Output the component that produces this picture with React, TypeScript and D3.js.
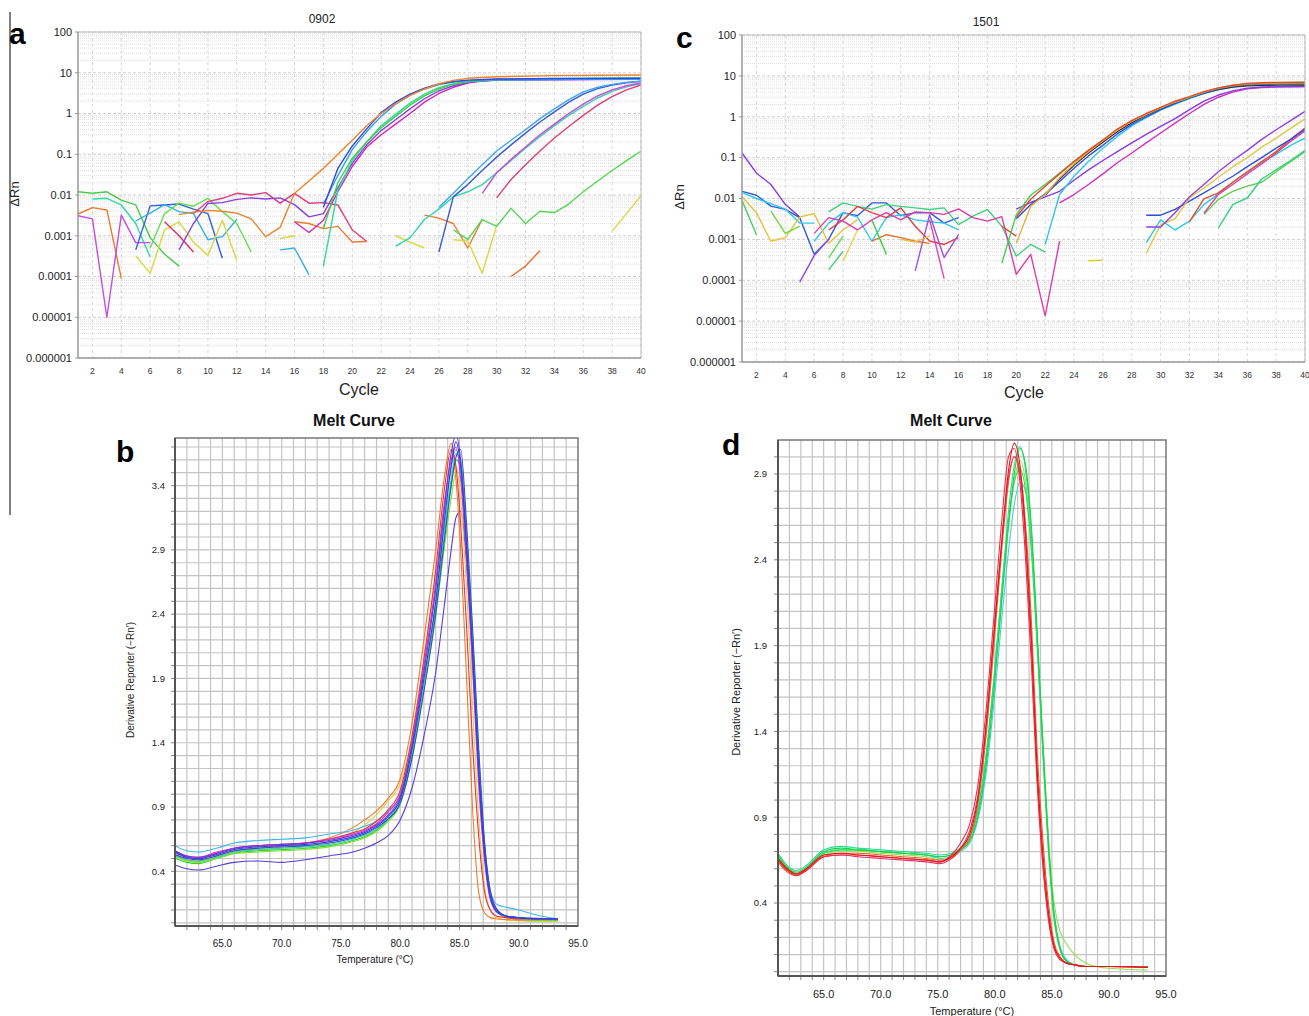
import React from "react";
import * as d3 from "d3";

type Pt = [number, number];

const FONT = "'Liberation Sans', Arial, Helvetica, sans-serif";

// ---------- ticks ----------
const cycleTicks = [2, 4, 6, 8, 10, 12, 14, 16, 18, 20, 22, 24, 26, 28, 30, 32, 34, 36, 38, 40];
const logTicks = [100, 10, 1, 0.1, 0.01, 0.001, 0.0001, 0.00001, 0.000001];
const logTickLabels = ["100", "10", "1", "0.1", "0.01", "0.001", "0.0001", "0.00001", "0.000001"];
const tempTicks = [65, 70, 75, 80, 85, 90, 95];
const tempTickLabels = ["65.0", "70.0", "75.0", "80.0", "85.0", "90.0", "95.0"];
const bYTicks = [0.4, 0.9, 1.4, 1.9, 2.4, 2.9, 3.4];
const dYTicks = [0.4, 0.9, 1.4, 1.9, 2.4, 2.9];

// ---------- panel a (0902): [cycle, ΔRn] ----------
const aGreenNoise: Pt[] = [[1, 0.012], [2, 0.011], [3, 0.012], [4, 0.0075], [5, 0.0057], [6, 0.0009], [7, 0.00035], [8, 0.00018]];
const aTealNoise: Pt[] = [[2, 0.008], [3, 0.0083], [4, 0.0057], [5, 0.002], [6, 0.0003]];
const aOrangeNoise1: Pt[] = [[1, 0.0034], [2, 0.0049], [3, 0.0043], [4, 0.00009]];
const aVioletNoise: Pt[] = [[1, 0.0031], [2, 0.0026], [3, 0.00001], [4, 0.0032], [5, 0.00068], [6, 0.00068]];
const aBlueNoise: Pt[] = [[5, 0.00045], [6, 0.0054], [7, 0.0057], [8, 0.006], [9, 0.0045], [10, 0.0035], [11, 0.00028]];
const aCyanNoise: Pt[] = [[5, 0.0023], [6, 0.0036], [7, 0.0058], [8, 0.0039], [9, 0.0035], [10, 0.0008], [11, 0.00095], [12, 0.0025]];
const aYellowNoise: Pt[] = [[5, 0.00032], [6, 0.00012], [7, 0.0014], [8, 0.0022], [9, 0.0007], [10, 0.00033], [11, 0.0024], [12, 0.00025]];
const aLimeNoise: Pt[] = [[6, 0.0005], [7, 0.0035], [8, 0.0063], [9, 0.0053], [10, 0.0083], [11, 0.0039], [12, 0.002], [13, 0.0004]];
const aCrimsonNoise: Pt[] = [[7, 0.0022], [8, 0.001], [9, 0.0004]];
const aPinkNoise: Pt[] = [[9, 0.0035], [10, 0.0069], [11, 0.0083], [12, 0.011], [13, 0.01], [14, 0.0114], [15, 0.0063], [16, 0.011], [17, 0.0063], [18, 0.0065], [19, 0.0057], [20, 0.0014], [21, 0.00072]];
const aOrangeNoise2: Pt[] = [[16, 0.0022], [17, 0.002], [18, 0.0015], [19, 0.0017], [20, 0.0007], [21, 0.00072]];
const aSkyShort: Pt[] = [[15, 0.00045], [16, 0.0005], [17, 0.00011]];
const aYellowShort: Pt[] = [[15, 0.00085], [16, 0.001]];

const aOrange: Pt[] = [[8, 0.0033], [9, 0.0038], [10, 0.0042], [11, 0.004], [12, 0.0036], [13, 0.0026], [14, 0.00095], [15, 0.0016], [16, 0.011], [17, 0.022], [18, 0.045], [19, 0.1], [20, 0.22], [21, 0.5], [22, 1.0], [23, 1.75], [24, 2.8], [25, 4.0], [26, 5.3], [27, 6.5], [28, 7.3], [30, 8.0], [34, 8.5], [40, 8.8]];
const aBlue: Pt[] = [[18, 0.005], [19, 0.045], [20, 0.16], [21, 0.42], [22, 1.05], [23, 1.9], [24, 3.0], [25, 4.2], [26, 5.3], [27, 6.1], [28, 6.6], [30, 7.0], [34, 7.2], [40, 7.3]];
const aSky: Pt[] = [[18, 0.006], [19, 0.03], [20, 0.13], [21, 0.36], [22, 0.85], [23, 1.7], [24, 2.8], [25, 4.0], [26, 5.1], [27, 5.9], [28, 6.4], [30, 6.8], [40, 7.0]];
const aGreen: Pt[] = [[18, 0.0015], [19, 0.02], [20, 0.08], [21, 0.2], [22, 0.45], [23, 0.85], [24, 1.6], [25, 2.7], [26, 4.0], [27, 5.2], [28, 6.1], [30, 6.9], [40, 7.5]];
const aTeal: Pt[] = [[18, 0.00018], [19, 0.013], [20, 0.07], [21, 0.2], [22, 0.5], [23, 0.95], [24, 1.8], [25, 3.0], [26, 4.3], [27, 5.4], [28, 6.1], [30, 6.7], [40, 7.1]];
const aMagenta: Pt[] = [[16, 0.0022], [17, 0.0012], [18, 0.0024], [19, 0.012], [20, 0.05], [21, 0.15], [22, 0.3], [23, 0.55], [24, 1.0], [25, 1.9], [26, 3.1], [27, 4.4], [28, 5.6], [29, 6.3], [30, 6.7], [40, 7.0]];
const aPurple: Pt[] = [[8, 0.00045], [9, 0.002], [10, 0.0062], [11, 0.0065], [12, 0.0078], [13, 0.0085], [14, 0.008], [15, 0.0085], [16, 0.0058], [17, 0.0029], [18, 0.0035], [19, 0.015], [20, 0.06], [21, 0.17], [22, 0.38], [23, 0.7], [24, 1.3], [25, 2.3], [26, 3.6], [27, 4.8], [28, 5.8], [30, 6.6], [40, 6.9]];

const aSkyLate: Pt[] = [[26, 0.005], [27, 0.011], [28, 0.025], [29, 0.055], [30, 0.12], [31, 0.22], [32, 0.4], [33, 0.75], [34, 1.3], [35, 2.2], [36, 3.4], [37, 4.4], [38, 5.2], [39, 5.8], [40, 6.2]];
const aBlueLate: Pt[] = [[26, 0.0004], [27, 0.009], [28, 0.018], [29, 0.04], [30, 0.085], [31, 0.17], [32, 0.33], [33, 0.62], [34, 1.1], [35, 1.9], [36, 3.0], [37, 4.1], [38, 5.0], [39, 5.7], [40, 6.2]];
const aTealLate: Pt[] = [[23, 0.00055], [24, 0.0009], [25, 0.0025], [26, 0.0045], [27, 0.009], [28, 0.012], [29, 0.018], [30, 0.035], [31, 0.07], [32, 0.14], [33, 0.27], [34, 0.5], [35, 0.9], [36, 1.5], [37, 2.4], [38, 3.5], [39, 4.5], [40, 5.4]];
const aMagentaLate: Pt[] = [[29, 0.011], [30, 0.035], [31, 0.075], [32, 0.15], [33, 0.3], [34, 0.55], [35, 1.0], [36, 1.7], [37, 2.7], [38, 3.8], [39, 4.8], [40, 5.6]];
const aCrimsonLate: Pt[] = [[30, 0.0085], [31, 0.024], [32, 0.055], [33, 0.12], [34, 0.25], [35, 0.48], [36, 0.9], [37, 1.6], [38, 2.6], [39, 3.8], [40, 5.0]];
const aYellowLate1: Pt[] = [[23, 0.001], [24, 0.0007], [25, 0.0005]];
const aOrangeLate: Pt[] = [[25, 0.0032], [26, 0.0027], [27, 0.002], [28, 0.0005], [29, 0.0025]];
const aYellowLate2: Pt[] = [[27, 0.0008], [28, 0.00075], [29, 0.00012], [30, 0.0018]];
const aGreenLate: Pt[] = [[27, 0.0014], [28, 0.0008], [29, 0.0025], [30, 0.0017], [31, 0.0047], [32, 0.002], [33, 0.004], [34, 0.0037], [35, 0.006], [36, 0.012], [37, 0.022], [38, 0.04], [39, 0.07], [40, 0.12]];
const aRedLate: Pt[] = [[31, 0.0001], [32, 0.00018], [33, 0.00043]];
const aYellowLast: Pt[] = [[38, 0.0013], [40, 0.0095]];

// ---------- panel c (1501) ----------
const cPurpleNoise: Pt[] = [[1, 0.13], [2, 0.042], [3, 0.022], [4, 0.0072], [5, 0.0035]];
const cBlueNoise: Pt[] = [[1, 0.015], [2, 0.012], [3, 0.0065], [4, 0.0054], [5, 0.0034], [6, 0.00043], [7, 0.001], [8, 0.0045], [9, 0.0038], [10, 0.0078], [11, 0.0078], [12, 0.0038], [13, 0.0045], [14, 0.0045], [15, 0.0025], [16, 0.0034]];
const cCyanNoise: Pt[] = [[1, 0.014], [2, 0.01], [3, 0.0075], [4, 0.0055], [5, 0.0025], [6, 0.0025]];
const cCyanNoise2: Pt[] = [[6, 0.0009], [7, 0.0025], [8, 0.0045], [9, 0.0035], [10, 0.0009], [11, 0.0034], [12, 0.004], [13, 0.003], [14, 0.0027], [15, 0.0025], [16, 0.0017]];
const cYellowNoise: Pt[] = [[1, 0.011], [2, 0.0045], [3, 0.0009], [4, 0.0011], [5, 0.0035], [6, 0.0043], [7, 0.0008], [8, 0.0017], [9, 0.003]];
const cGreenNoise1: Pt[] = [[1, 0.009], [2, 0.0013]];
const cGreenNoise2: Pt[] = [[3, 0.0049], [4, 0.0014], [5, 0.0021]];
const cGreenTop: Pt[] = [[7, 0.0047], [8, 0.0078], [9, 0.0064], [10, 0.0055], [11, 0.0071], [12, 0.0064], [13, 0.0059], [14, 0.0054], [15, 0.0059], [16, 0.0023], [17, 0.0037], [18, 0.0054], [19, 0.0021], [20, 0.00039], [21, 0.00075], [22, 0.00049]];
const cRedNoise: Pt[] = [[7, 0.0017], [8, 0.003], [9, 0.0064], [10, 0.0045], [11, 0.0034], [12, 0.0059], [13, 0.0021], [14, 0.00091], [15, 0.00075], [16, 0.0011]];
const cMagentaNoise: Pt[] = [[6, 0.0014], [7, 0.0034], [8, 0.0028], [9, 0.0017], [10, 0.003], [11, 0.0045], [12, 0.003], [13, 0.0047], [14, 0.0045], [15, 0.0041], [16, 0.0056], [17, 0.0034], [18, 0.0028], [19, 0.0036], [20, 0.00014], [21, 0.00043], [22, 0.0000135], [23, 0.0009]];
const cPurpleShort1: Pt[] = [[5, 0.00009], [6, 0.0004], [7, 0.001]];
const cPurpleShort2: Pt[] = [[13, 0.00017], [14, 0.004], [15, 0.00036], [16, 0.0013]];
const cMagentaSpike: Pt[] = [[14, 0.003], [15, 0.00011]];
const cOrangeNoise: Pt[] = [[10, 0.00091], [11, 0.0013], [12, 0.0011], [13, 0.0009], [14, 0.0008]];
const cGreenShort1: Pt[] = [[7, 0.00035], [8, 0.0012]];
const cGreenShort2: Pt[] = [[7, 0.00018], [8, 0.00051]];
const cGreenShort3: Pt[] = [[10, 0.003], [11, 0.00043]];
const cYellowShort: Pt[] = [[8, 0.00029], [9, 0.0017]];
const cYellowFlat: Pt[] = [[12, 0.001], [13, 0.00086], [14, 0.0012]];
const cRedShort: Pt[] = [[19, 0.0021], [20, 0.0012]];
const cYellowFlat2: Pt[] = [[25, 0.0003], [26, 0.00031]];

const cRed: Pt[] = [[20, 0.0035], [21, 0.0096], [22, 0.02], [23, 0.04], [24, 0.08], [25, 0.15], [26, 0.27], [27, 0.5], [28, 0.8], [29, 1.2], [30, 1.7], [31, 2.4], [32, 3.1], [33, 4.1], [34, 5.1], [35, 5.9], [36, 6.5], [37, 6.8], [38, 6.9], [40, 7.0]];
const cGreen: Pt[] = [[19, 0.00026], [20, 0.004], [21, 0.012], [22, 0.022], [23, 0.042], [24, 0.08], [25, 0.15], [26, 0.27], [27, 0.48], [28, 0.78], [29, 1.15], [30, 1.65], [31, 2.3], [32, 3.0], [33, 4.0], [34, 5.0], [35, 5.8], [36, 6.3], [38, 6.6], [40, 6.8]];
const cOrange: Pt[] = [[20, 0.0008], [21, 0.0065], [22, 0.0125], [23, 0.032], [24, 0.07], [25, 0.14], [26, 0.26], [27, 0.47], [28, 0.78], [29, 1.15], [30, 1.65], [31, 2.3], [32, 3.05], [33, 4.0], [34, 5.0], [35, 5.8], [36, 6.4], [38, 6.8], [40, 6.9]];
const cBlue: Pt[] = [[20, 0.0032], [21, 0.0071], [22, 0.013], [23, 0.026], [24, 0.055], [25, 0.11], [26, 0.2], [27, 0.38], [28, 0.65], [29, 1.0], [30, 1.5], [31, 2.1], [32, 2.9], [33, 3.8], [34, 4.8], [35, 5.6], [36, 6.1], [38, 6.5], [40, 6.6]];
const cCyan: Pt[] = [[22, 0.00075], [23, 0.0125], [24, 0.035], [25, 0.08], [26, 0.17], [27, 0.33], [28, 0.6], [29, 0.95], [30, 1.45], [31, 2.05], [32, 2.8], [33, 3.7], [34, 4.6], [35, 5.4], [36, 5.9], [38, 6.3], [40, 6.4]];
const cBlack: Pt[] = [[22, 0.012], [23, 0.03], [24, 0.065], [25, 0.13], [26, 0.24], [27, 0.43], [28, 0.72], [29, 1.1], [30, 1.55], [31, 2.2], [32, 2.9], [33, 3.8], [34, 4.6], [35, 5.3], [36, 5.7], [38, 5.95], [40, 6.0]];
const cPurple: Pt[] = [[20, 0.0055], [21, 0.008], [22, 0.011], [23, 0.015], [24, 0.028], [25, 0.05], [26, 0.085], [27, 0.14], [28, 0.23], [29, 0.37], [30, 0.58], [31, 0.9], [32, 1.5], [33, 2.4], [34, 3.4], [35, 4.3], [36, 5.0], [37, 5.3], [38, 5.4], [40, 5.5]];
const cMagenta: Pt[] = [[23, 0.0078], [24, 0.0125], [25, 0.022], [26, 0.04], [27, 0.075], [28, 0.13], [29, 0.23], [30, 0.4], [31, 0.7], [32, 1.2], [33, 2.0], [34, 3.0], [35, 4.0], [36, 4.8], [37, 5.2], [38, 5.4], [40, 5.5]];

const cBlueLate: Pt[] = [[29, 0.0039], [30, 0.0039], [31, 0.0054], [32, 0.0086], [33, 0.0137], [34, 0.022], [35, 0.035], [36, 0.06], [37, 0.1], [38, 0.17], [39, 0.28], [40, 0.5]];
const cPurpleLate: Pt[] = [[29, 0.002], [30, 0.002], [31, 0.0045], [32, 0.011], [33, 0.022], [34, 0.045], [35, 0.085], [36, 0.15], [37, 0.28], [38, 0.48], [39, 0.8], [40, 1.35]];
const cCyanLate: Pt[] = [[29, 0.00083], [30, 0.003], [31, 0.0017], [32, 0.0028], [33, 0.0071], [34, 0.013], [35, 0.025], [36, 0.045], [37, 0.075], [38, 0.12], [39, 0.2], [40, 0.3]];
const cYellowLate: Pt[] = [[29, 0.00045], [30, 0.0023], [31, 0.0032], [32, 0.0103], [33, 0.018], [34, 0.033], [35, 0.06], [36, 0.1], [37, 0.18], [38, 0.3], [39, 0.52], [40, 0.89]];
const cRedLate: Pt[] = [[32, 0.0027], [33, 0.0098], [34, 0.0137], [35, 0.025], [36, 0.045], [37, 0.08], [38, 0.14], [39, 0.28], [40, 0.53]];
const cMagentaLate: Pt[] = [[33, 0.0044], [34, 0.0125], [35, 0.022], [36, 0.04], [37, 0.07], [38, 0.13], [39, 0.25], [40, 0.45]];
const cGreenLate: Pt[] = [[33, 0.0041], [34, 0.0095], [35, 0.015], [36, 0.02], [37, 0.025], [38, 0.045], [39, 0.08], [40, 0.14]];
const cTealLate: Pt[] = [[34, 0.0019], [35, 0.0071], [36, 0.0103], [37, 0.03], [38, 0.05], [39, 0.085], [40, 0.15]];

// ---------- panel b (melt, 0902): derivative reporter at bTemps ----------
const bTemps = [61, 62, 63, 64.5, 66, 68, 70, 72, 74, 76, 77, 78, 79, 80, 81, 82, 83, 83.7, 84.3, 84.7, 85.1, 85.6, 86.1, 86.6, 87.1, 87.6, 88.2, 89, 90, 91.5, 93.3];
const bBlue = [0.55, 0.51, 0.5, 0.53, 0.57, 0.59, 0.6, 0.61, 0.63, 0.67, 0.7, 0.75, 0.83, 0.96, 1.35, 1.9, 2.5, 3.1, 3.55, 3.74, 3.55, 2.9, 2.1, 1.2, 0.55, 0.2, 0.08, 0.05, 0.04, 0.035, 0.03];
const bNavy = [0.53, 0.5, 0.49, 0.52, 0.56, 0.58, 0.59, 0.6, 0.62, 0.66, 0.69, 0.74, 0.81, 0.93, 1.28, 1.8, 2.4, 2.95, 3.4, 3.62, 3.68, 3.1, 2.3, 1.4, 0.65, 0.25, 0.1, 0.05, 0.04, 0.03, 0.03];
const bPurple = [0.56, 0.52, 0.51, 0.54, 0.58, 0.6, 0.61, 0.62, 0.64, 0.68, 0.71, 0.76, 0.84, 0.98, 1.38, 1.95, 2.6, 3.2, 3.65, 3.8, 3.6, 2.95, 2.15, 1.25, 0.6, 0.22, 0.09, 0.05, 0.04, 0.03, 0.03];
const bMagenta = [0.56, 0.52, 0.51, 0.55, 0.58, 0.6, 0.61, 0.62, 0.65, 0.69, 0.72, 0.77, 0.86, 1.0, 1.4, 2.0, 2.65, 3.25, 3.6, 3.7, 3.45, 2.8, 2.0, 1.1, 0.5, 0.18, 0.08, 0.05, 0.04, 0.03, 0.03];
const bRed = [0.55, 0.51, 0.5, 0.54, 0.58, 0.6, 0.61, 0.62, 0.65, 0.7, 0.73, 0.79, 0.88, 1.03, 1.45, 2.05, 2.75, 3.35, 3.68, 3.55, 3.1, 2.3, 1.4, 0.7, 0.25, 0.1, 0.05, 0.04, 0.03, 0.03, 0.03];
const bOrange = [0.53, 0.49, 0.48, 0.52, 0.56, 0.58, 0.6, 0.62, 0.66, 0.74, 0.8, 0.87, 0.97, 1.12, 1.55, 2.2, 2.9, 3.45, 3.73, 3.45, 2.9, 1.9, 0.9, 0.25, 0.08, 0.04, 0.03, 0.025, 0.02, 0.02, 0.02];
const bYellow = [0.52, 0.48, 0.47, 0.51, 0.55, 0.57, 0.58, 0.6, 0.63, 0.7, 0.76, 0.84, 0.95, 1.08, 1.45, 2.05, 2.7, 3.2, 3.5, 3.55, 3.3, 2.6, 1.7, 0.85, 0.3, 0.1, 0.04, 0.02, 0.015, 0.01, 0.01];
const bGreen = [0.5, 0.47, 0.46, 0.5, 0.54, 0.56, 0.57, 0.58, 0.6, 0.64, 0.67, 0.72, 0.8, 0.93, 1.3, 1.85, 2.45, 3.0, 3.4, 3.6, 3.55, 3.0, 2.2, 1.3, 0.6, 0.22, 0.08, 0.04, 0.03, 0.02, 0.02];
const bLime = [0.51, 0.48, 0.47, 0.5, 0.54, 0.55, 0.56, 0.57, 0.59, 0.63, 0.66, 0.71, 0.79, 0.92, 1.28, 1.82, 2.4, 2.9, 3.3, 3.5, 3.5, 3.0, 2.25, 1.35, 0.62, 0.23, 0.09, 0.04, 0.03, 0.02, 0.02];
const bTeal = [0.52, 0.49, 0.48, 0.51, 0.55, 0.57, 0.58, 0.59, 0.61, 0.65, 0.68, 0.73, 0.81, 0.95, 1.32, 1.88, 2.5, 3.05, 3.45, 3.65, 3.6, 3.05, 2.25, 1.35, 0.63, 0.24, 0.09, 0.05, 0.04, 0.03, 0.02];
const bCyan = [0.6, 0.56, 0.55, 0.58, 0.62, 0.64, 0.65, 0.66, 0.69, 0.72, 0.75, 0.79, 0.87, 1.0, 1.4, 1.97, 2.6, 3.15, 3.55, 3.68, 3.5, 2.9, 2.1, 1.25, 0.6, 0.25, 0.14, 0.12, 0.1, 0.06, 0.03];
const bViolet = [0.45, 0.42, 0.41, 0.44, 0.47, 0.48, 0.47, 0.49, 0.52, 0.55, 0.58, 0.62, 0.68, 0.8, 1.05, 1.45, 1.95, 2.45, 2.9, 3.15, 3.2, 2.8, 2.05, 1.2, 0.58, 0.22, 0.09, 0.05, 0.04, 0.03, 0.03];

// ---------- panel d (melt, 1501) ----------
const dTemps = [61, 61.8, 62.6, 63.5, 65, 66.5, 68, 70, 72, 74, 75.2, 76.2, 77, 77.8, 78.5, 79.2, 79.9, 80.6, 81.2, 81.7, 82.2, 82.7, 83.2, 83.7, 84.2, 84.7, 85.2, 85.7, 86.3, 87, 88, 90, 93.4];
const dRed = [0.66, 0.6, 0.57, 0.6, 0.68, 0.69, 0.68, 0.67, 0.66, 0.65, 0.64, 0.67, 0.72, 0.8, 1.0, 1.4, 1.95, 2.5, 2.92, 3.08, 2.95, 2.55, 1.95, 1.2, 0.7, 0.35, 0.15, 0.08, 0.05, 0.04, 0.03, 0.03, 0.025];
const dRed2 = [0.65, 0.59, 0.56, 0.59, 0.67, 0.68, 0.68, 0.67, 0.66, 0.65, 0.64, 0.68, 0.75, 0.86, 1.08, 1.5, 2.05, 2.62, 3.0, 3.05, 2.85, 2.4, 1.8, 1.1, 0.62, 0.3, 0.13, 0.07, 0.05, 0.04, 0.03, 0.03, 0.025];
const dOrange = [0.64, 0.58, 0.56, 0.59, 0.67, 0.69, 0.69, 0.68, 0.67, 0.66, 0.65, 0.66, 0.71, 0.78, 0.97, 1.35, 1.88, 2.45, 2.85, 3.0, 2.92, 2.6, 2.05, 1.3, 0.78, 0.4, 0.17, 0.09, 0.05, 0.04, 0.03, 0.03, 0.025];
const dPink = [0.65, 0.59, 0.56, 0.6, 0.67, 0.68, 0.67, 0.66, 0.65, 0.64, 0.63, 0.66, 0.72, 0.82, 1.02, 1.42, 1.95, 2.5, 2.88, 3.0, 2.9, 2.5, 1.9, 1.15, 0.65, 0.32, 0.14, 0.08, 0.05, 0.04, 0.03, 0.03, 0.025];
const dGreen = [0.68, 0.61, 0.58, 0.61, 0.7, 0.72, 0.71, 0.7, 0.69, 0.68, 0.67, 0.68, 0.71, 0.76, 0.9, 1.18, 1.62, 2.15, 2.6, 2.9, 3.05, 2.95, 2.6, 2.0, 1.35, 0.75, 0.33, 0.14, 0.06, 0.04, 0.03, 0.03, 0.03];
const dGreen2 = [0.67, 0.6, 0.57, 0.6, 0.69, 0.71, 0.71, 0.7, 0.69, 0.68, 0.67, 0.68, 0.72, 0.78, 0.94, 1.25, 1.7, 2.22, 2.62, 2.85, 2.93, 2.8, 2.45, 1.9, 1.28, 0.7, 0.3, 0.13, 0.06, 0.04, 0.03, 0.03, 0.03];
const dLight = [0.66, 0.6, 0.57, 0.6, 0.68, 0.7, 0.7, 0.69, 0.68, 0.67, 0.65, 0.67, 0.71, 0.77, 0.93, 1.22, 1.66, 2.18, 2.6, 2.86, 2.98, 2.85, 2.5, 1.95, 1.35, 0.78, 0.4, 0.24, 0.16, 0.1, 0.05, 0.02, 0.01];
const dCyan = [0.65, 0.6, 0.57, 0.6, 0.69, 0.71, 0.71, 0.7, 0.69, 0.68, 0.66, 0.67, 0.7, 0.75, 0.88, 1.14, 1.55, 2.05, 2.45, 2.72, 2.85, 2.8, 2.5, 1.95, 1.35, 0.75, 0.34, 0.15, 0.07, 0.04, 0.03, 0.03, 0.03];
const dSpring = [0.69, 0.62, 0.59, 0.62, 0.71, 0.73, 0.72, 0.71, 0.7, 0.69, 0.68, 0.69, 0.72, 0.78, 0.93, 1.22, 1.68, 2.22, 2.68, 2.95, 3.06, 2.92, 2.55, 1.95, 1.3, 0.72, 0.32, 0.14, 0.06, 0.04, 0.03, 0.03, 0.03];

type AmpCurve = { data: Pt[]; color: string };

const aCurves: AmpCurve[] = [
  { data: aGreenNoise, color: "#48cc48" },
  { data: aTealNoise, color: "#2ed8a8" },
  { data: aOrangeNoise1, color: "#ec7a30" },
  { data: aVioletNoise, color: "#c44ee0" },
  { data: aBlueNoise, color: "#3060e0" },
  { data: aCyanNoise, color: "#34b0e4" },
  { data: aYellowNoise, color: "#d8d840" },
  { data: aLimeNoise, color: "#62e04c" },
  { data: aCrimsonNoise, color: "#e0305c" },
  { data: aPinkNoise, color: "#e03c7c" },
  { data: aOrangeNoise2, color: "#ec7a30" },
  { data: aSkyShort, color: "#34b0e4" },
  { data: aYellowShort, color: "#d8d840" },
  { data: aYellowLate1, color: "#d8d840" },
  { data: aOrangeLate, color: "#ec7a30" },
  { data: aYellowLate2, color: "#d8d840" },
  { data: aGreenLate, color: "#50d850" },
  { data: aRedLate, color: "#ec6a30" },
  { data: aYellowLast, color: "#d8d840" },
  { data: aTealLate, color: "#34d4b0" },
  { data: aCrimsonLate, color: "#e04070" },
  { data: aMagentaLate, color: "#cc44d8" },
  { data: aBlueLate, color: "#3a58e0" },
  { data: aSkyLate, color: "#40a8e8" },
  { data: aMagenta, color: "#d424c4" },
  { data: aPurple, color: "#8a40e0" },
  { data: aTeal, color: "#2ed8a0" },
  { data: aGreen, color: "#44d044" },
  { data: aSky, color: "#30a4e8" },
  { data: aBlue, color: "#3048e0" },
  { data: aOrange, color: "#f08228" },
];

const cCurves: AmpCurve[] = [
  { data: cPurpleNoise, color: "#8a40e0" },
  { data: cBlueNoise, color: "#3058e0" },
  { data: cCyanNoise, color: "#30c8e8" },
  { data: cCyanNoise2, color: "#30c8e8" },
  { data: cYellowNoise, color: "#e8c040" },
  { data: cGreenNoise1, color: "#48d060" },
  { data: cGreenNoise2, color: "#70d840" },
  { data: cGreenTop, color: "#40d080" },
  { data: cRedNoise, color: "#e04040" },
  { data: cMagentaNoise, color: "#e03ca8" },
  { data: cPurpleShort1, color: "#9048e0" },
  { data: cPurpleShort2, color: "#a050e0" },
  { data: cMagentaSpike, color: "#e040c0" },
  { data: cOrangeNoise, color: "#e07030" },
  { data: cGreenShort1, color: "#60d850" },
  { data: cGreenShort2, color: "#40d070" },
  { data: cGreenShort3, color: "#48d048" },
  { data: cYellowShort, color: "#e8d050" },
  { data: cYellowFlat, color: "#e8c040" },
  { data: cRedShort, color: "#e04040" },
  { data: cYellowFlat2, color: "#d8c820" },
  { data: cGreenLate, color: "#60d050" },
  { data: cTealLate, color: "#30d080" },
  { data: cCyanLate, color: "#30c8e8" },
  { data: cMagentaLate, color: "#e040a0" },
  { data: cRedLate, color: "#e05030" },
  { data: cBlueLate, color: "#3050d8" },
  { data: cYellowLate, color: "#e0c848" },
  { data: cPurpleLate, color: "#9040e0" },
  { data: cMagenta, color: "#d030c0" },
  { data: cPurple, color: "#8a38e0" },
  { data: cCyan, color: "#30c8e8" },
  { data: cBlack, color: "#303030" },
  { data: cBlue, color: "#3050e0" },
  { data: cGreen, color: "#40d050" },
  { data: cOrange, color: "#e8b030" },
  { data: cRed, color: "#e84830" },
];

type MeltCurve = { values: number[]; color: string };

const bCurves: MeltCurve[] = [
  { values: bViolet, color: "#5a3cd8" },
  { values: bYellow, color: "#dcd040" },
  { values: bOrange, color: "#f07a28" },
  { values: bGreen, color: "#30d030" },
  { values: bLime, color: "#80e030" },
  { values: bTeal, color: "#30d8a0" },
  { values: bCyan, color: "#40b8e8" },
  { values: bRed, color: "#e83040" },
  { values: bMagenta, color: "#e030c0" },
  { values: bPurple, color: "#7a30e0" },
  { values: bNavy, color: "#3050c8" },
  { values: bBlue, color: "#2840e8" },
];

const dCurves: MeltCurve[] = [
  { values: dCyan, color: "#40d0e0" },
  { values: dLight, color: "#90e050" },
  { values: dGreen2, color: "#30e060" },
  { values: dSpring, color: "#20e090" },
  { values: dGreen, color: "#20d040" },
  { values: dOrange, color: "#f06020" },
  { values: dPink, color: "#e83070" },
  { values: dRed2, color: "#f03040" },
  { values: dRed, color: "#e01818" },
];

function AmpPanel(props: {
  id: string; left: number; right: number; top: number; bottom: number;
  title: string; titleX: number; titleY: number;
  letter: string; letterX: number; letterY: number;
  labelX: number; labelY: number; tickY: number; cycleX: number; cycleY: number;
  curves: AmpCurve[];
}) {
  const { id, left, right, top, bottom, curves } = props;
  const x = d3.scaleLinear().domain([1, 40]).range([left, right]);
  const y = d3.scaleLog().domain([1e-6, 100]).range([bottom, top]);
  const line = d3.line<Pt>().x((d) => x(d[0])).y((d) => y(d[1]));
  const minor: number[] = [];
  for (let e = -6; e <= 1; e++) for (let m = 2; m <= 9; m++) minor.push(m * Math.pow(10, e));

  return (
    <g fontFamily={FONT}>
      <defs>
        <clipPath id={id}>
          <rect x={left} y={top} width={right - left} height={bottom - top} />
        </clipPath>
      </defs>
      {minor.map((v) => (
        <line key={"mn" + v} x1={left} x2={right} y1={y(v)} y2={y(v)} stroke="#d6d6d6" strokeWidth={0.8} strokeDasharray="1,1" />
      ))}
      {logTicks.map((v) => (
        <line key={"mj" + v} x1={left} x2={right} y1={y(v)} y2={y(v)} stroke="#cfcfcf" strokeWidth={1} strokeDasharray="3,2" />
      ))}
      {cycleTicks.map((c) => (
        <line key={"v" + c} x1={x(c)} x2={x(c)} y1={top} y2={bottom} stroke="#d8d8d8" strokeWidth={1} strokeDasharray="3,3" />
      ))}
      <g clipPath={`url(#${id})`}>
        {curves.map((c, i) => (
          <path key={i} d={line(c.data) || ""} fill="none" stroke={c.color} strokeWidth={1.4} strokeLinejoin="round" />
        ))}
      </g>
      <line x1={left} x2={right} y1={top} y2={top} stroke="#bbbbbb" />
      <line x1={right} x2={right} y1={top} y2={bottom} stroke="#bbbbbb" />
      <line x1={left} x2={left} y1={top} y2={bottom} stroke="#999" strokeWidth={1.5} />
      <line x1={left} x2={right} y1={bottom} y2={bottom} stroke="#999" strokeWidth={1.5} />
      {logTicks.map((v, i) => (
        <g key={"yl" + v}>
          <line x1={left - 3} x2={left} y1={y(v)} y2={y(v)} stroke="#999" />
          <text x={left - 6} y={y(v)} dy="0.35em" textAnchor="end" fontSize={11} fill="#222">
            {logTickLabels[i]}
          </text>
        </g>
      ))}
      {cycleTicks.map((c) => (
        <text key={"xl" + c} x={x(c)} y={props.tickY} textAnchor="middle" fontSize={8.5} fill="#333">
          {c}
        </text>
      ))}
      <text x={props.titleX} y={props.titleY} textAnchor="middle" fontSize={12} fill="#222">{props.title}</text>
      <text x={props.cycleX} y={props.cycleY} textAnchor="middle" fontSize={16} fill="#222">Cycle</text>
      <text transform={`translate(${props.labelX},${props.labelY}) rotate(-90)`} textAnchor="middle" fontSize={13} fill="#222">ΔRn</text>
      <text x={props.letterX} y={props.letterY} fontSize={30} fontWeight="bold" fill="#000">{props.letter}</text>
    </g>
  );
}

function MeltPanel(props: {
  id: string; left: number; right: number; top: number; bottom: number;
  yMin: number; yMax: number; yTicks: number[]; temps: number[]; curves: MeltCurve[];
  titleX: number; titleY: number; letter: string; letterX: number; letterY: number;
  tickY: number; xLabelX: number; xLabelY: number; yLabelX: number; yLabelY: number;
  labelSize: number; yTickRight: number;
}) {
  const { id, left, right, top, bottom, temps, curves } = props;
  const x = d3.scaleLinear().domain([61, 95]).range([left, right]);
  const y = d3.scaleLinear().domain([props.yMin, props.yMax]).range([bottom, top]);
  const line = d3
    .line<[number, number]>()
    .x((d) => x(d[0]))
    .y((d) => y(d[1]))
    .curve(d3.curveMonotoneX);
  const vGrid = d3.range(62, 95, 1);
  const hGrid = d3.range(0, Math.floor(props.yMax * 10) + 1).map((k) => k / 10);

  return (
    <g fontFamily={FONT}>
      <defs>
        <clipPath id={id}>
          <rect x={left} y={top} width={right - left} height={bottom - top} />
        </clipPath>
      </defs>
      {vGrid.map((t) => (
        <line key={"v" + t} x1={x(t)} x2={x(t)} y1={top} y2={bottom} stroke="#c4c4c4" strokeWidth={1.2} />
      ))}
      {hGrid.map((v) => (
        <line key={"h" + v} x1={left} x2={right} y1={y(v)} y2={y(v)} stroke="#c4c4c4" strokeWidth={1.2} />
      ))}
      {hGrid.map((v) => (
        <line key={"ht" + v} x1={left - 4} x2={left} y1={y(v)} y2={y(v)} stroke="#888" strokeWidth={1} />
      ))}
      {vGrid.map((t) => (
        <line key={"vt" + t} x1={x(t)} x2={x(t)} y1={bottom} y2={bottom + 4} stroke="#888" strokeWidth={1} />
      ))}
      <g clipPath={`url(#${id})`}>
        {curves.map((c, i) => (
          <path
            key={i}
            d={line(temps.map((t, j) => [t, c.values[j]] as [number, number])) || ""}
            fill="none"
            stroke={c.color}
            strokeWidth={1.1}
          />
        ))}
      </g>
      <rect x={left} y={top} width={right - left} height={bottom - top} fill="none" stroke="#777" strokeWidth={1.5} />
      <line x1={left} x2={left} y1={top} y2={bottom} stroke="#555" strokeWidth={2} />
      <line x1={left} x2={right} y1={bottom} y2={bottom} stroke="#555" strokeWidth={2} />
      {props.yTicks.map((v) => (
        <text key={"yl" + v} x={props.yTickRight} y={y(v)} dy="0.35em" textAnchor="end" fontSize={9.5} fill="#222">
          {v.toFixed(1)}
        </text>
      ))}
      {tempTicks.map((t, i) => (
        <text key={"xl" + t} x={x(t)} y={props.tickY} textAnchor="middle" fontSize={props.labelSize} fill="#222">
          {tempTickLabels[i]}
        </text>
      ))}
      <text x={props.titleX} y={props.titleY} textAnchor="middle" fontSize={16} fontWeight="bold" fill="#111">Melt Curve</text>
      <text x={props.xLabelX} y={props.xLabelY} textAnchor="middle" fontSize={props.labelSize} fill="#222">Temperature (°C)</text>
      <text transform={`translate(${props.yLabelX},${props.yLabelY}) rotate(-90)`} textAnchor="middle" fontSize={props.labelSize} fill="#222">
        Derivative Reporter (−Rn′)
      </text>
      <text x={props.letterX} y={props.letterY} fontSize={30} fontWeight="bold" fill="#000">{props.letter}</text>
    </g>
  );
}

export default function App() {
  return (
    <svg width={1309} height={1016} style={{ position: "absolute", left: 0, top: 0, background: "#fff" }}>
      <rect width={1309} height={1016} fill="#fff" />
      <line x1={10} x2={10} y1={12} y2={515} stroke="#555" strokeWidth={1.5} />
      <AmpPanel
        id="clipA" left={78} right={641} top={32} bottom={358}
        title="0902" titleX={322} titleY={23}
        letter="a" letterX={9} letterY={44}
        labelX={19} labelY={194} tickY={374} cycleX={359} cycleY={395}
        curves={aCurves}
      />
      <AmpPanel
        id="clipC" left={742} right={1305} top={35} bottom={362}
        title="1501" titleX={986} titleY={26}
        letter="c" letterX={676} letterY={48}
        labelX={684} labelY={197} tickY={378} cycleX={1024} cycleY={398}
        curves={cCurves}
      />
      <MeltPanel
        id="clipB" left={175} right={578} top={438} bottom={926}
        yMin={-0.025} yMax={3.77} yTicks={bYTicks} temps={bTemps} curves={bCurves}
        titleX={354} titleY={426} letter="b" letterX={116} letterY={462}
        tickY={947} xLabelX={375} xLabelY={963} yLabelX={134} yLabelY={680}
        labelSize={10} yTickRight={165}
      />
      <MeltPanel
        id="clipD" left={778} right={1166} top={440} bottom={976}
        yMin={-0.025} yMax={3.098} yTicks={dYTicks} temps={dTemps} curves={dCurves}
        titleX={951} titleY={426} letter="d" letterX={722} letterY={455}
        tickY={998} xLabelX={972} xLabelY={1015} yLabelX={740} yLabelY={692}
        labelSize={11} yTickRight={767}
      />
    </svg>
  );
}
